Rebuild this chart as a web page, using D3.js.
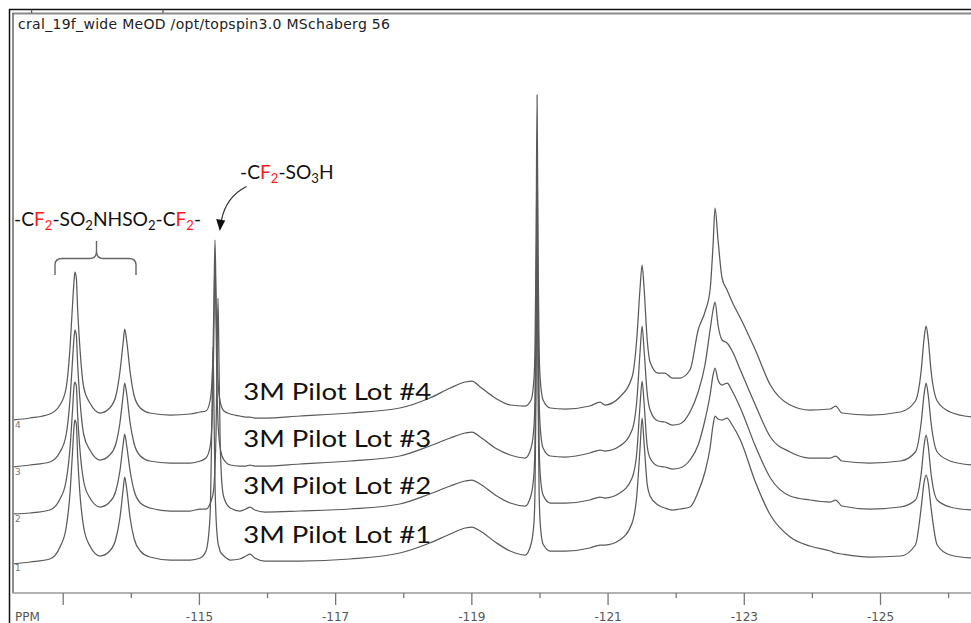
<!DOCTYPE html>
<html><head><meta charset="utf-8">
<script src="https://cdn.jsdelivr.net/npm/d3@7/dist/d3.min.js"></script>
<style>body{margin:0;background:#fff}svg{display:block}</style>
</head><body>
<script>
// chemical shift grid (ppm), shared by all four spectra
const ppm = [-112.26,-112.52,-112.81,-112.96,-113.05,-113.11,-113.14,-113.17,-113.18,-113.20,-113.22,-113.25,-113.31,-113.40,-113.55,-113.69,-113.78,-113.84,-113.89,-113.91,-113.94,-113.99,-114.05,-114.14,-114.28,-114.58,-114.87,-115.02,-115.104,-115.163,-115.192,-115.207,-115.222,-115.236,-115.251,-115.266,-115.280,-115.295,-115.310,-115.339,-115.369,-115.46,-115.60,-115.69,-115.75,-115.82,-115.97,-116.48,-117.22,-117.95,-118.39,-118.69,-118.91,-119.01,-119.13,-119.35,-119.57,-119.79,-119.877,-119.921,-119.935,-119.950,-119.965,-119.979,-119.994,-120.009,-120.053,-120.16,-120.38,-120.74,-120.89,-120.96,-121.18,-121.36,-121.43,-121.477,-121.507,-121.536,-121.580,-121.624,-121.74,-121.84,-121.95,-122.06,-122.21,-122.33,-122.43,-122.505,-122.549,-122.578,-122.622,-122.681,-122.755,-122.83,-122.95,-123.17,-123.39,-123.68,-123.97,-124.27,-124.35,-124.44,-124.85,-125.30,-125.52,-125.604,-125.648,-125.677,-125.706,-125.750,-125.84,-126.03,-126.34];

// intensities (arbitrary units) of each lot
const lot1 = [-1,1,4,16,35,72,106,139,143,139,106,72,35,17,7,12,24,45,75,86,74,45,24,12,6,3,3,5,12,46,150,216,150,80,46,29,20,16,12,9,7,3,4,7,9,5,2,2,4,10,20,29,35,36,32,21,12,8,19,42,75,172,333,172,75,42,19,12,12,15,18,18,23,40,68,115,145,120,80,67,58,55,53,54,56,71,91,115,138,147,144,143,145,138,123,81,48,26,17,12,10,9,6,7,18,55,81,88,81,55,18,8,5];
const lot2 = [0,1,4,15,33,68,99,130,132,128,98,67,32,16,7,12,23,43,71,80,68,43,23,11,6,3,3,5,5,10,16,20,29,46,80,150,216,150,80,29,16,6,3,5,7,4,2,3,5,10,20,28,33,34,30,19,11,8,19,42,74,170,329,170,74,42,19,11,11,14,17,16,21,36,62,109,133,111,69,56,48,47,45,46,54,69,94,119,139,146,134,129,131,123,106,68,36,18,14,12,14,8,5,7,14,40,69,79,69,40,14,7,4];
const lot3 = [0,2,5,15,32,70,102,132,137,132,102,70,32,17,7,12,23,44,73,84,73,44,23,11,6,4,4,6,9,20,45,78,147,212,147,78,45,29,20,11,7,2,1,1,2,1,1,3,6,11,21,29,34,35,30,19,12,9,19,42,73,168,327,168,73,42,19,11,10,14,17,16,21,37,67,115,141,117,75,57,46,45,42,43,55,75,102,137,157,165,142,127,124,116,97,62,30,15,9,9,11,6,4,6,15,44,73,84,73,44,15,6,2];
const lot4 = [0,2,6,15,32,75,110,142,148,142,110,75,32,17,7,12,24,48,79,91,79,48,24,12,7,5,6,8,9,19,39,67,126,180,126,67,39,26,19,12,9,6,4,3,3,2,2,4,7,12,22,32,38,39,33,22,15,14,20,43,75,168,325,168,75,43,20,12,11,14,18,15,23,43,82,132,155,132,82,58,47,47,42,42,50,90,108,130,175,212,180,142,130,118,102,70,35,15,10,11,14,7,5,8,19,49,82,94,82,49,19,8,3];

const lots = [lot1, lot2, lot3, lot4];
const lotNames = ["3M Pilot Lot #1","3M Pilot Lot #2","3M Pilot Lot #3","3M Pilot Lot #4"];
const traceNumbers = ["1","2","3","4"];
const stackOffsets = [0, 49, 96, 143];          // vertical stacking, intensity units
const majorTicks = [-113,-115,-117,-119,-121,-123,-125];
const majorLabels = ["","-115","-117","-119","-121","-123","-125"];
const minorTicks = [-114,-116,-118,-120,-122,-124,-126];
const titleText = "cral_19f_wide MeOD /opt/topspin3.0 MSchaberg 56";

const W = 971, H = 623;
const svg = d3.select("body").append("svg").attr("width", W).attr("height", H);

const x = d3.scaleLinear().domain([-113, -125]).range([62.7, 880]);
const y = d3.scaleLinear().domain([0, 500]).range([563, 63]);

// frame
svg.append("line").attr("x1",9).attr("x2",W).attr("y1",9.5).attr("y2",9.5).attr("stroke","#111").attr("stroke-width",1.5);
svg.append("line").attr("x1",9.5).attr("x2",9.5).attr("y1",9).attr("y2",H).attr("stroke","#111").attr("stroke-width",1.5);
svg.append("line").attr("x1",12.5).attr("x2",W).attr("y1",13.5).attr("y2",13.5).attr("stroke","#8a8a8a").attr("stroke-width",2);
svg.append("line").attr("x1",13).attr("x2",13).attr("y1",13).attr("y2",593).attr("stroke","#666").attr("stroke-width",1.5);
[31.7, 163].forEach(px => svg.append("line").attr("x1",px).attr("x2",px).attr("y1",9).attr("y2",13).attr("stroke","#333").attr("stroke-width",1));

// title
svg.append("text").attr("x",18).attr("y",29).attr("font-family","DejaVu Sans, Verdana, sans-serif")
  .attr("font-size",14).attr("fill","#222").attr("textLength",372).attr("lengthAdjust","spacing").text(titleText);

// spectra
svg.append("clipPath").attr("id","plotclip").append("rect").attr("x",14).attr("y",15).attr("width",W-14).attr("height",577);
const g = svg.append("g").attr("clip-path","url(#plotclip)");
lots.forEach((vals, k) => {
  const line = d3.line()
    .x((d, i) => x(ppm[i]))
    .y(d => y(d + stackOffsets[k]))
    .curve(d3.curveMonotoneX);
  g.append("path").attr("d", line(vals)).attr("fill","none")
    .attr("stroke","#5a5a5a").attr("stroke-width",1.25).attr("stroke-linejoin","round");
});

// trace numbers at left
traceNumbers.forEach((t, k) => {
  svg.append("text").attr("x",15).attr("y", y(stackOffsets[k]) + 8)
    .attr("font-family","DejaVu Sans, sans-serif").attr("font-size",9).attr("fill","#777").text(t);
});

// lot labels
lotNames.forEach((t, k) => {
  svg.append("text").attr("x", x(-115.65)).attr("y", y(stackOffsets[k]) - 20)
    .attr("font-family","Lato, 'Open Sans', sans-serif").attr("font-size",23).attr("fill","#111")
    .attr("textLength",188).attr("lengthAdjust","spacingAndGlyphs").text(t);
});

// axis
const axisY = 593;
svg.append("line").attr("x1",12.5).attr("x2",W).attr("y1",axisY).attr("y2",axisY).attr("stroke","#999").attr("stroke-width",1.5);
const gMaj = svg.append("g").attr("transform",`translate(0,${axisY})`)
  .call(d3.axisBottom(x).tickValues(majorTicks).tickSize(12).tickPadding(7).tickFormat((d,i)=>majorLabels[i]));
const gMin = svg.append("g").attr("transform",`translate(0,${axisY})`)
  .call(d3.axisBottom(x).tickValues(minorTicks).tickSize(5).tickFormat(""));
[gMaj, gMin].forEach(a => {
  a.select(".domain").remove();
  a.selectAll(".tick line").attr("stroke","#777").attr("stroke-width",1.3);
  a.selectAll("text").attr("font-family","DejaVu Sans, Verdana, sans-serif").attr("font-size",12).attr("fill","#555");
});
svg.append("text").attr("x",15).attr("y",620.5).attr("font-family","DejaVu Sans, Verdana, sans-serif")
  .attr("font-size",12).attr("fill","#555").text("PPM");

// annotations
const red = "#ff1a1a";
function chem(xp, yp, parts, size) {
  const t = svg.append("text").attr("x", xp).attr("y", yp)
    .attr("font-family","Lato, 'Open Sans', sans-serif").attr("font-size", size).attr("fill","#111");
  parts.forEach(p => {
    const s = t.append("tspan").text(p.t);
    if (p.red) s.attr("fill", red);
    if (p.sub) s.attr("font-size", size * 0.68).attr("dy", 4);
    if (p.after) s.attr("dy", -4);
  });
  return t;
}
chem(14, 226, [
  {t:"-C"},{t:"F",red:1},{t:"2",red:1,sub:1},{t:"-SO",after:1},{t:"2",sub:1},{t:"NHSO",after:1},{t:"2",sub:1},
  {t:"-C",after:1},{t:"F",red:1},{t:"2",red:1,sub:1},{t:"-",after:1}
], 19.2);
chem(240, 179, [
  {t:"-C"},{t:"F",red:1},{t:"2",red:1,sub:1},{t:"-SO",after:1},{t:"3",sub:1},{t:"H",after:1}
], 19.2);

// brace
svg.append("path").attr("d","M55,275 V265 Q55,258.5 62,258.5 H90 Q96.5,258.5 96.5,251 V241 M96.5,251 Q96.5,258.5 103,258.5 H129 Q136,258.5 136,265 V275")
  .attr("fill","none").attr("stroke","#666").attr("stroke-width",1.4);
// arrow
svg.append("path").attr("d","M246.5,186.5 Q226,197 221.5,220").attr("fill","none").attr("stroke","#333").attr("stroke-width",1.3);
svg.append("path").attr("d","M219.8,231 L216.2,219 L225.2,220.6 Z").attr("fill","#111");
</script>
</body></html>
